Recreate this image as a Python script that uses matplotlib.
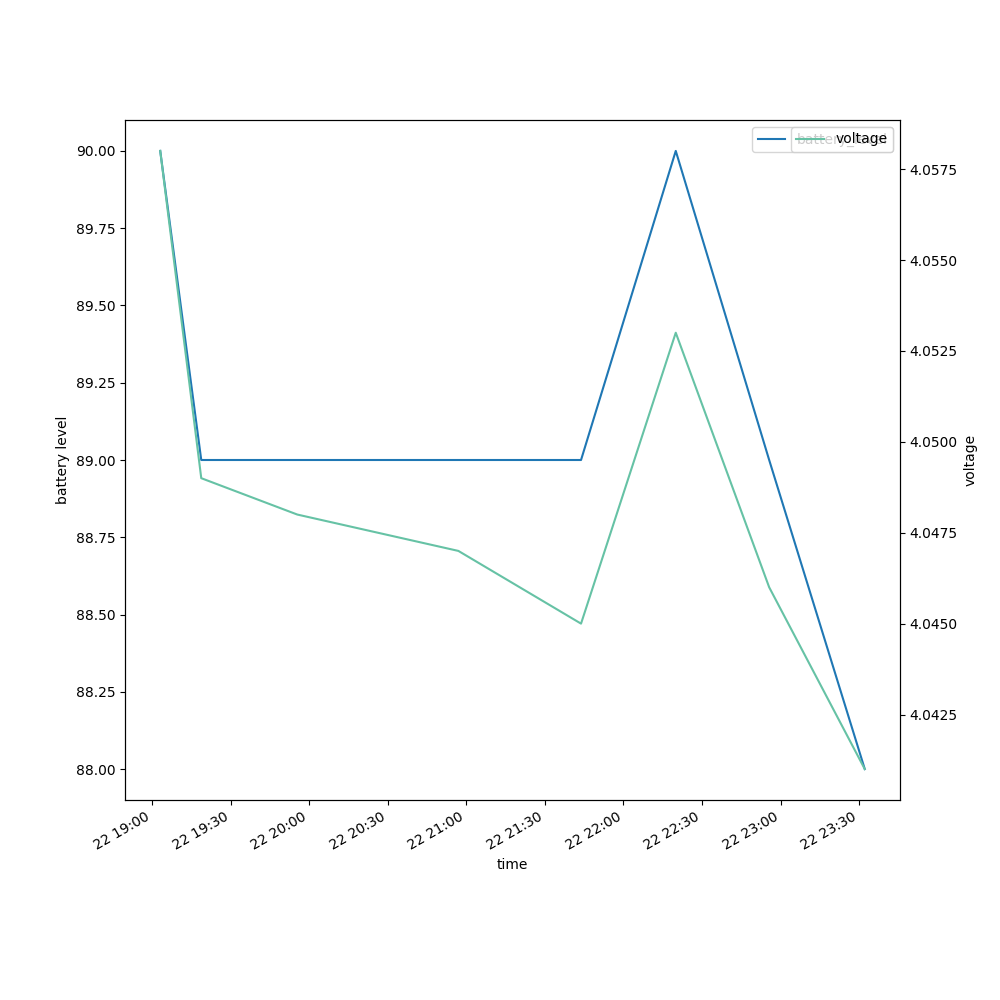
import matplotlib
matplotlib.use('Agg')
import numpy as np
import pandas as pd
import matplotlib.pyplot as plt

times = ['2021-03-22 19:03:10', '2021-03-22 19:18:50', '2021-03-22 19:55:30', '2021-03-22 20:57:00',
         '2021-03-22 21:43:50', '2021-03-22 22:20:00', '2021-03-22 22:55:40', '2021-03-22 23:32:10']
battery_level = [90, 89, 89, 89, 89, 90, 89, 88]
voltage = [4.058, 4.049, 4.048, 4.047, 4.045, 4.053, 4.046, 4.041]

data = pd.DataFrame({'time': pd.to_datetime(times),
                     'battery_level': battery_level,
                     'voltage': voltage})

fig, ax = plt.subplots(figsize=(10, 10))
ax.plot(data.time, data.battery_level, color='tab:blue', label='battery_level')
ax.set_xlabel('time')
ax.set_ylabel('battery level')
ax.legend(loc='upper right')

ax2 = ax.twinx()
ax2.plot(data.time, data.voltage, color='#66c2a5', label='voltage')
ax2.set_ylabel('voltage')
ax2.legend(loc='upper right')

fig.autofmt_xdate()
plt.savefig('out.png')
